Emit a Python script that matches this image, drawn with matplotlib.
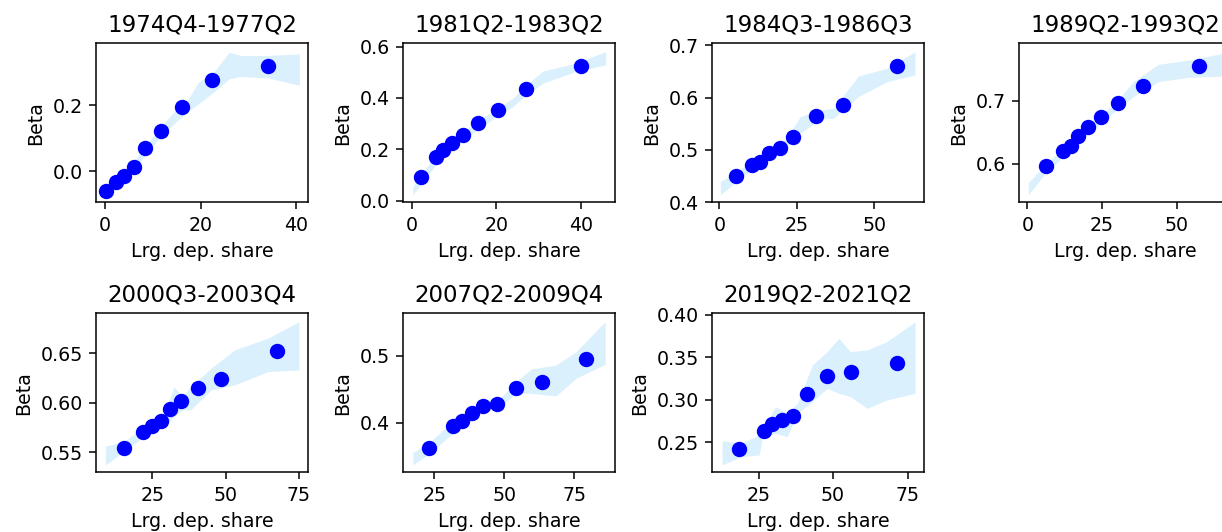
import matplotlib
matplotlib.use("Agg")
import matplotlib.pyplot as plt

titles = ["1974Q4-1977Q2", "1981Q2-1983Q2", "1984Q3-1986Q3", "1989Q2-1993Q2",
          "2000Q3-2003Q4", "2007Q2-2009Q4", "2019Q2-2021Q2"]

# scatter points: large-deposit share (x) vs beta (y)
p1_x = [0.14, 2.3, 4.0, 6.0, 8.4, 11.7, 16.1, 22.3, 34.2]
p1_y = [-0.062, -0.034, -0.016, 0.012, 0.071, 0.121, 0.195, 0.276, 0.320]
p2_x = [2.2, 5.7, 7.45, 9.6, 12.2, 15.7, 20.5, 27.1, 40.0]
p2_y = [0.090, 0.169, 0.195, 0.223, 0.257, 0.301, 0.353, 0.435, 0.526]
p3_x = [5.4, 10.5, 13.2, 15.9, 19.5, 23.8, 31.2, 39.9, 57.3]
p3_y = [0.449, 0.470, 0.476, 0.494, 0.504, 0.524, 0.565, 0.586, 0.661]
p4_x = [6.1, 11.8, 14.5, 17.1, 20.3, 24.6, 30.5, 38.8, 57.5]
p4_y = [0.596, 0.621, 0.629, 0.645, 0.658, 0.674, 0.696, 0.724, 0.756]
p5_x = [15.3, 21.9, 25.0, 27.9, 31.1, 34.9, 40.6, 48.4, 67.4]
p5_y = [0.5547, 0.5709, 0.5769, 0.582, 0.5934, 0.6022, 0.6146, 0.6237, 0.6524]
p6_x = [23.3, 31.6, 35.0, 38.4, 42.3, 47.5, 54.3, 63.5, 79.1]
p6_y = [0.3625, 0.3955, 0.403, 0.415, 0.4255, 0.428, 0.4525, 0.4615, 0.495]
p7_x = [18.5, 26.8, 29.6, 33.0, 36.5, 41.3, 47.8, 56.0, 71.4]
p7_y = [0.2418, 0.2633, 0.2712, 0.2763, 0.2814, 0.3065, 0.328, 0.3333, 0.343]

# confidence bands
b1_x = [6.3, 8.8, 11.6, 14.4, 17.2, 19.6, 22.8, 26.0, 28.4, 34.0, 40.7]
b1_lo = [0.007, 0.058, 0.104, 0.144, 0.180, 0.205, 0.241, 0.281, 0.288, 0.284, 0.261]
b1_hi = [0.035, 0.083, 0.134, 0.180, 0.215, 0.271, 0.302, 0.362, 0.352, 0.352, 0.357]
b2_x = [0.24, 2.7, 5.9, 9.8, 15.3, 20.8, 23.9, 27.1, 31.0, 38.8, 45.9]
b2_lo = [0.022, 0.074, 0.145, 0.204, 0.275, 0.334, 0.366, 0.412, 0.457, 0.503, 0.529]
b2_hi = [0.055, 0.113, 0.182, 0.236, 0.308, 0.366, 0.399, 0.451, 0.505, 0.535, 0.581]
b3_x = [0.3, 5.7, 11.1, 16.5, 21.8, 26.1, 32.6, 36.9, 44.9, 54.1, 63.2]
b3_lo = [0.414, 0.4395, 0.465, 0.487, 0.506, 0.5318, 0.5586, 0.5605, 0.602, 0.6306, 0.6433]
b3_hi = [0.4395, 0.4586, 0.4796, 0.500, 0.522, 0.5637, 0.5764, 0.5796, 0.6414, 0.656, 0.688]
b4_x = [0.3, 6.5, 12.1, 17.6, 23.2, 29.9, 35.5, 43.9, 54.5, 67.9]
b4_lo = [0.5508, 0.5878, 0.6116, 0.6354, 0.6593, 0.6857, 0.7069, 0.7307, 0.7376, 0.7397]
b4_hi = [0.5704, 0.601, 0.626, 0.6487, 0.6725, 0.699, 0.7307, 0.7582, 0.765, 0.778]
b5_x = [9.0, 15.3, 22.1, 26.1, 29.0, 32.4, 35.3, 38.1, 45.0, 53.0, 64.4, 75.0]
b5_lo = [0.5372, 0.5507, 0.5658, 0.5726, 0.5759, 0.586, 0.5928, 0.5928, 0.613, 0.618, 0.6315, 0.6332]
b5_hi = [0.5564, 0.5608, 0.5759, 0.586, 0.5894, 0.6163, 0.6062, 0.6163, 0.6348, 0.6534, 0.6652, 0.682]
b6_x = [17.4, 23.6, 29.5, 35.4, 42.5, 48.4, 54.3, 59.6, 68.5, 75.6, 86.0]
b6_lo = [0.3365, 0.354, 0.3765, 0.394, 0.4165, 0.424, 0.444, 0.444, 0.44, 0.4665, 0.4875]
b6_hi = [0.355, 0.3715, 0.394, 0.409, 0.430, 0.4365, 0.4615, 0.4805, 0.4865, 0.5065, 0.5515]
b7_x = [12.7, 19.0, 25.2, 26.3, 30.7, 34.6, 38.0, 43.0, 48.0, 51.9, 55.8, 61.4, 68.0, 77.5]
b7_lo = [0.2233, 0.2331, 0.2351, 0.2567, 0.2606, 0.2567, 0.2842, 0.2979, 0.3136, 0.3077, 0.3038, 0.29, 0.2999, 0.3077]
b7_hi = [0.252, 0.2488, 0.2586, 0.2645, 0.292, 0.2842, 0.2959, 0.3411, 0.3568, 0.3725, 0.3568, 0.3588, 0.3686, 0.3921]

points = [(p1_x, p1_y), (p2_x, p2_y), (p3_x, p3_y), (p4_x, p4_y),
          (p5_x, p5_y), (p6_x, p6_y), (p7_x, p7_y)]
bands = [(b1_x, b1_lo, b1_hi), (b2_x, b2_lo, b2_hi), (b3_x, b3_lo, b3_hi),
         (b4_x, b4_lo, b4_hi), (b5_x, b5_lo, b5_hi), (b6_x, b6_lo, b6_hi),
         (b7_x, b7_lo, b7_hi)]

xlims = [(-1.9, 42.5), (-2.1, 48.1), (-2.4, 66.1), (-2.8, 68.2),
         (5.8, 78.1), (13.9, 89.5), (9.35, 80.5)]
ylims = [(-0.095, 0.389), (-0.007, 0.613), (0.3995, 0.704), (0.539, 0.7915),
         (0.5298, 0.6904), (0.3255, 0.564), (0.2147, 0.402)]
xticks = [[0, 20, 40], [0, 20, 40], [0, 25, 50], [0, 25, 50],
          [25, 50, 75], [25, 50, 75], [25, 50, 75]]
yticks = [[0.0, 0.2], [0.0, 0.2, 0.4, 0.6], [0.4, 0.5, 0.6, 0.7], [0.6, 0.7],
          [0.55, 0.60, 0.65], [0.4, 0.5], [0.25, 0.30, 0.35, 0.40]]
ytickfmt = ["%.1f", "%.1f", "%.1f", "%.1f", "%.2f", "%.1f", "%.2f"]

W, H = 1222, 532
dpi = 137
fig = plt.figure(figsize=(W / dpi, H / dpi), dpi=dpi)

lefts_px = [96, 403, 712, 1019]
aw, ah = 212 / W, 159 / H
bottoms = [1 - 202.3 / H, 1 - 472.3 / H]

for i in range(7):
    r, c = divmod(i, 4)
    ax = fig.add_axes([lefts_px[c] / W, bottoms[r], aw, ah])
    bx, blo, bhi = bands[i]
    ax.fill_between(bx, blo, bhi, color="lightskyblue", alpha=0.3, linewidth=0)
    px, py = points[i]
    ax.scatter(px, py, s=50, color="blue", zorder=3)
    ax.set_xlim(*xlims[i])
    ax.set_ylim(*ylims[i])
    ax.set_xticks(xticks[i])
    ax.set_yticks(yticks[i])
    ax.set_yticklabels([ytickfmt[i] % v for v in yticks[i]])
    ax.set_title(titles[i])
    ax.set_xlabel("Lrg. dep. share")
    ax.set_ylabel("Beta")

fig.savefig("out.png", dpi=dpi)
